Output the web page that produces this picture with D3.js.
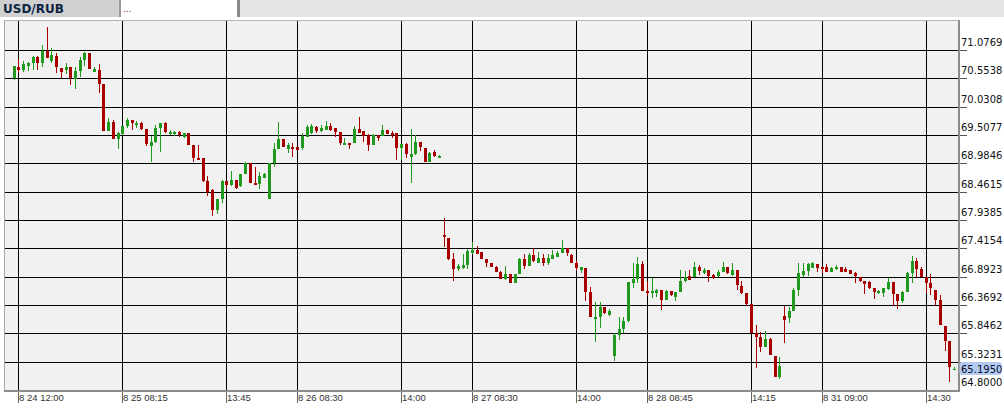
<!DOCTYPE html>
<html><head><meta charset="utf-8">
<script src="https://cdn.jsdelivr.net/npm/d3@7"></script>
<style>html,body{margin:0;padding:0;background:#fff;overflow:hidden}</style>
</head><body><svg id="c" width="1004" height="414"></svg>
<script>
const symbol = "USD/RUB";
const lastPrice = 65.1950;
const opens = [
70.561,70.764,70.709,70.788,70.838,70.948,70.843,71.065,70.880,70.967,
70.751,70.709,70.770,70.542,70.690,70.893,71.022,70.677,70.709,70.456,
69.582,69.748,69.440,69.536,69.675,69.785,69.699,69.735,69.619,69.311,
69.385,69.643,69.724,69.532,69.532,69.564,69.466,69.540,69.324,69.084,
69.093,68.659,68.493,68.124,68.321,68.664,68.585,68.677,68.567,68.788,
68.986,68.617,68.604,68.709,68.321,68.986,69.250,69.435,69.250,69.292,
69.281,69.274,69.477,69.540,69.662,69.588,69.601,69.675,69.632,69.558,
69.329,69.366,69.366,69.614,69.582,69.508,69.324,69.508,69.496,69.601,
69.540,69.540,69.263,69.342,69.108,69.158,69.385,69.274,69.016,69.200,
69.089,67.662,67.601,67.219,67.034,67.053,67.108,67.324,67.385,67.354,
67.219,67.151,67.077,66.985,66.850,66.942,66.770,66.942,67.219,67.095,
67.293,67.151,67.232,67.151,67.213,67.261,67.335,67.416,67.293,67.151,
67.025,67.047,66.610,66.120,66.154,66.339,66.185,65.433,65.816,65.927,
66.068,66.770,66.850,67.132,66.628,66.585,66.597,66.647,66.462,66.634,
66.523,66.615,66.818,66.905,66.881,67.077,66.955,67.016,66.923,66.905,
66.985,67.077,66.923,67.016,66.720,66.597,66.388,65.847,65.773,65.600,
65.742,65.428,65.045,66.167,66.124,66.264,66.647,66.923,67.003,67.058,
67.121,67.066,67.077,66.985,67.029,67.077,67.029,67.016,66.966,66.892,
66.818,66.800,66.678,66.585,66.597,66.659,66.800,66.573,66.449,66.615,
66.955,67.182,67.034,66.892,66.781,66.647,66.462,65.982,65.711,65.169];
const highs = [
70.782,70.911,70.880,70.862,70.967,70.967,71.170,71.508,71.109,71.028,
70.751,70.832,70.770,70.770,70.954,71.035,71.022,70.758,70.825,70.456,
69.816,69.785,69.570,69.675,69.822,69.785,69.767,69.748,69.619,69.481,
69.687,69.724,69.748,69.606,69.588,69.582,69.551,69.551,69.324,69.333,
69.093,68.751,68.511,68.321,68.677,68.664,68.844,68.677,68.788,69.010,
68.986,68.923,68.831,68.801,68.986,69.366,69.748,69.435,69.366,69.355,
69.281,69.540,69.693,69.706,69.675,69.693,69.772,69.735,69.632,69.558,
69.447,69.366,69.675,69.846,69.582,69.527,69.521,69.508,69.699,69.601,
69.588,69.540,69.342,69.366,69.614,69.508,69.385,69.274,69.200,69.231,
69.145,67.970,67.601,67.324,67.121,67.311,67.398,67.527,67.459,67.354,
67.219,67.151,67.095,66.997,67.090,66.942,66.942,67.232,67.311,67.335,
67.416,67.354,67.306,67.306,67.385,67.372,67.570,67.416,67.311,67.200,
67.077,67.047,66.702,66.431,66.431,66.339,66.301,65.847,66.142,66.148,
66.800,67.139,67.261,67.182,66.813,66.877,66.656,66.647,66.647,66.634,
66.615,67.016,67.003,67.016,67.158,67.108,67.047,67.016,66.942,67.016,
67.169,67.077,67.139,67.016,66.818,66.597,66.388,66.000,65.876,65.890,
65.755,65.428,65.415,66.351,66.327,66.678,67.139,67.151,67.151,67.169,
67.121,67.066,67.126,67.077,67.103,67.077,67.077,67.016,66.985,66.892,
66.818,66.813,66.678,66.647,66.678,66.862,66.800,66.573,66.634,66.985,
67.274,67.232,67.077,66.892,66.942,66.647,66.554,65.982,65.711,65.231];
const lows = [
70.524,70.654,70.672,70.696,70.709,70.709,70.764,70.930,70.832,70.648,
70.555,70.629,70.432,70.352,70.585,70.788,70.733,70.677,70.289,69.588,
69.582,69.440,69.250,69.508,69.647,69.601,69.638,69.610,69.314,69.001,
69.355,69.194,69.540,69.514,69.490,69.477,69.459,69.324,69.010,69.047,
68.640,68.388,68.022,68.059,68.253,68.511,68.567,68.520,68.554,68.788,
68.617,68.585,68.506,68.709,68.321,68.923,69.250,69.281,69.170,69.097,
69.231,69.231,69.466,69.521,69.540,69.570,69.601,69.588,69.477,69.324,
69.329,69.255,69.366,69.540,69.385,69.218,69.324,69.403,69.496,69.527,
69.447,69.047,69.047,69.078,68.617,69.139,69.218,69.016,69.016,69.108,
69.078,67.446,67.200,66.818,67.003,67.040,67.034,67.311,67.311,67.219,
67.066,67.077,66.973,66.850,66.831,66.770,66.770,66.942,67.029,67.095,
67.158,67.151,67.095,67.108,67.213,67.261,67.335,67.274,67.151,67.003,
66.955,66.444,66.154,65.692,65.954,66.209,66.167,65.341,65.729,65.852,
66.061,66.683,66.776,66.619,66.530,66.508,66.517,66.277,66.462,66.536,
66.444,66.615,66.800,66.831,66.881,66.923,66.942,66.800,66.850,66.892,
66.973,66.936,66.910,66.647,66.573,66.351,65.847,65.212,65.507,65.600,
65.446,65.034,64.997,65.674,66.043,66.264,66.536,66.892,66.905,67.047,
66.985,66.955,66.985,66.985,67.016,66.985,66.973,66.942,66.770,66.800,
66.573,66.665,66.480,66.573,66.512,66.647,66.351,66.290,66.401,66.615,
66.781,66.892,66.881,66.597,66.554,66.370,66.000,65.526,64.953,65.169];
const closes = [
70.782,70.709,70.825,70.843,70.948,70.843,71.065,70.935,70.991,70.770,
70.677,70.758,70.555,70.690,70.893,71.022,70.733,70.721,70.456,69.588,
69.748,69.440,69.540,69.675,69.785,69.735,69.735,69.619,69.342,69.385,
69.643,69.724,69.564,69.570,69.570,69.503,69.540,69.324,69.084,69.047,
68.659,68.462,68.124,68.321,68.664,68.585,68.677,68.524,68.788,68.986,
68.617,68.585,68.751,68.788,68.986,69.244,69.435,69.292,69.324,69.244,
69.231,69.490,69.662,69.675,69.588,69.638,69.675,69.601,69.558,69.366,
69.366,69.329,69.614,69.540,69.490,69.324,69.508,69.459,69.601,69.527,
69.508,69.263,69.342,69.152,69.158,69.385,69.281,69.016,69.182,69.121,
69.126,67.620,67.219,67.034,67.095,67.108,67.367,67.385,67.311,67.219,
67.151,67.077,66.985,66.850,66.942,66.770,66.942,67.219,67.095,67.293,
67.182,67.232,67.151,67.232,67.293,67.335,67.416,67.335,67.151,67.058,
67.062,66.615,66.154,66.154,66.339,66.227,66.260,65.816,65.921,66.068,
66.800,66.850,67.132,66.619,66.585,66.637,66.647,66.462,66.634,66.554,
66.615,66.813,66.892,66.831,67.066,66.997,67.016,66.905,66.862,66.985,
67.077,66.966,67.016,66.739,66.597,66.388,65.847,65.773,65.600,65.742,
65.446,65.045,65.243,66.093,66.264,66.647,66.955,67.003,67.121,67.139,
67.047,67.034,66.985,67.058,67.077,66.985,66.985,66.942,66.905,66.818,
66.757,66.678,66.615,66.634,66.678,66.800,66.573,66.449,66.615,66.955,
67.187,67.034,66.892,66.781,66.678,66.462,66.000,65.711,65.219,65.195];
const yTickValues = [71.0769,70.5538,70.0308,69.5077,68.9846,68.4615,67.9385,67.4154,66.8923,66.3692,65.8462,65.3231,64.8000];
const xTickIndex = [1,23,45,60,82,97,119,134,156,171,193];
const xTickLabels = ["8 24 12:00","8 25 08:15","13:45","8 26 08:30","14:00","8 27 08:30","14:00","8 28 08:45","14:15","8 31 09:00","14:30"];

const svg = d3.select("#c");
const L = 4, R = 958, T = 20, B = 390;
const x = d3.scaleLinear().domain([0, 199]).range([13.6, 954.1]);
const y = d3.scaleLinear().domain([64.8, 71.632]).range([B, T]);
const UP = "#1f9a1f", DOWN = "#a80000";

svg.append("rect").attr("width",1004).attr("height",414).attr("fill","#fff");
// header tabs
svg.append("rect").attr("x",0).attr("y",0).attr("width",1004).attr("height",17).attr("fill","#e4e4e4");
svg.append("rect").attr("x",0).attr("y",0).attr("width",119).attr("height",17).attr("fill","#d0d0d0");
svg.append("rect").attr("x",119).attr("y",0).attr("width",2).attr("height",17).attr("fill","#9a9a9a");
svg.append("rect").attr("x",121).attr("y",0).attr("width",116).attr("height",17).attr("fill","#ffffff");
svg.append("rect").attr("x",237).attr("y",0).attr("width",3).attr("height",17).attr("fill","#8a8a8a");
svg.append("text").attr("x",3).attr("y",13).text(symbol)
  .attr("font-family","DejaVu Sans, Verdana, sans-serif").attr("font-weight","bold")
  .attr("font-size","12px").attr("fill","#0b2342");
svg.append("text").attr("x",123).attr("y",12).text("...")
  .attr("font-family","DejaVu Sans, sans-serif").attr("font-size","9px").attr("fill","#8b1a1a");

// plot background
svg.append("rect").attr("x",L).attr("y",T).attr("width",R-L).attr("height",B-T).attr("fill","#f1f1f1");
svg.append("line").attr("x1",L+0.5).attr("x2",L+0.5).attr("y1",T).attr("y2",B).attr("stroke","#a8a8a8");
svg.append("line").attr("x1",L).attr("x2",R).attr("y1",T+0.5).attr("y2",T+0.5).attr("stroke","#b4b4b4");

const g = svg.append("g").attr("shape-rendering","crispEdges");
// horizontal grid
yTickValues.forEach(v => {
  const yy = Math.round(y(v)) + 0.5;
  if (v > 64.801) {
    g.append("line").attr("x1",L+1).attr("x2",R).attr("y1",yy).attr("y2",yy).attr("stroke","#000");
    g.append("line").attr("x1",R).attr("x2",967).attr("y1",yy).attr("y2",yy).attr("stroke","#555");
  }
});
// vertical grid
xTickIndex.forEach((idx, k) => {
  const xx = Math.round(x(idx)) + 0.5;
  g.append("line").attr("x1",xx).attr("x2",xx).attr("y1",T+1).attr("y2",B).attr("stroke","#000");
  g.append("line").attr("x1",xx).attr("x2",xx).attr("y1",B).attr("y2",403).attr("stroke","#666");
  svg.append("text").attr("x",xx+0.5).attr("y",400.5).text(xTickLabels[k])
    .attr("font-family","Liberation Sans, Arial, sans-serif").attr("font-size","9.5px").attr("fill","#333");
});

// candles
const cg = svg.append("g").attr("shape-rendering","crispEdges");
opens.forEach((o, i) => {
  const c = closes[i], hi = highs[i], lo = lows[i];
  const col = c >= o ? UP : DOWN;
  const cx = Math.round(x(i));
  const yh = Math.round(y(hi)), yl = Math.round(y(lo));
  cg.append("rect").attr("x",cx).attr("y",yh).attr("width",1).attr("height",Math.max(1,yl-yh)).attr("fill",col);
  const yt = Math.round(y(Math.max(o,c))), yb = Math.round(y(Math.min(o,c)));
  cg.append("rect").attr("x",cx-1).attr("y",yt).attr("width",3).attr("height",Math.max(1,yb-yt)).attr("fill",col);
});

// axes
svg.append("rect").attr("x",R).attr("y",T).attr("width",2).attr("height",B-T+2).attr("fill","#8c8c8c");
svg.append("rect").attr("x",L).attr("y",B).attr("width",R-L+2).attr("height",2).attr("fill","#8c8c8c");

// y labels
yTickValues.forEach(v => {
  svg.append("text").attr("x",961).attr("y",Math.round(y(v)) - 7.5).attr("dominant-baseline","central")
    .text(v.toFixed(4)).attr("font-family","DejaVu Sans, Verdana, sans-serif").attr("font-size","10px").attr("fill","#111");
});
// last price label
const ly = y(lastPrice);
svg.append("rect").attr("x",959.5).attr("y",ly-6.5).attr("width",42).attr("height",13).attr("rx",2).attr("fill","#b3cbf1");
svg.append("text").attr("x",961).attr("y",ly+0.5).attr("dominant-baseline","central")
  .text(lastPrice.toFixed(4)).attr("font-family","DejaVu Sans, Verdana, sans-serif").attr("font-size","10px").attr("fill","#0a0a2a");
</script></body></html>
